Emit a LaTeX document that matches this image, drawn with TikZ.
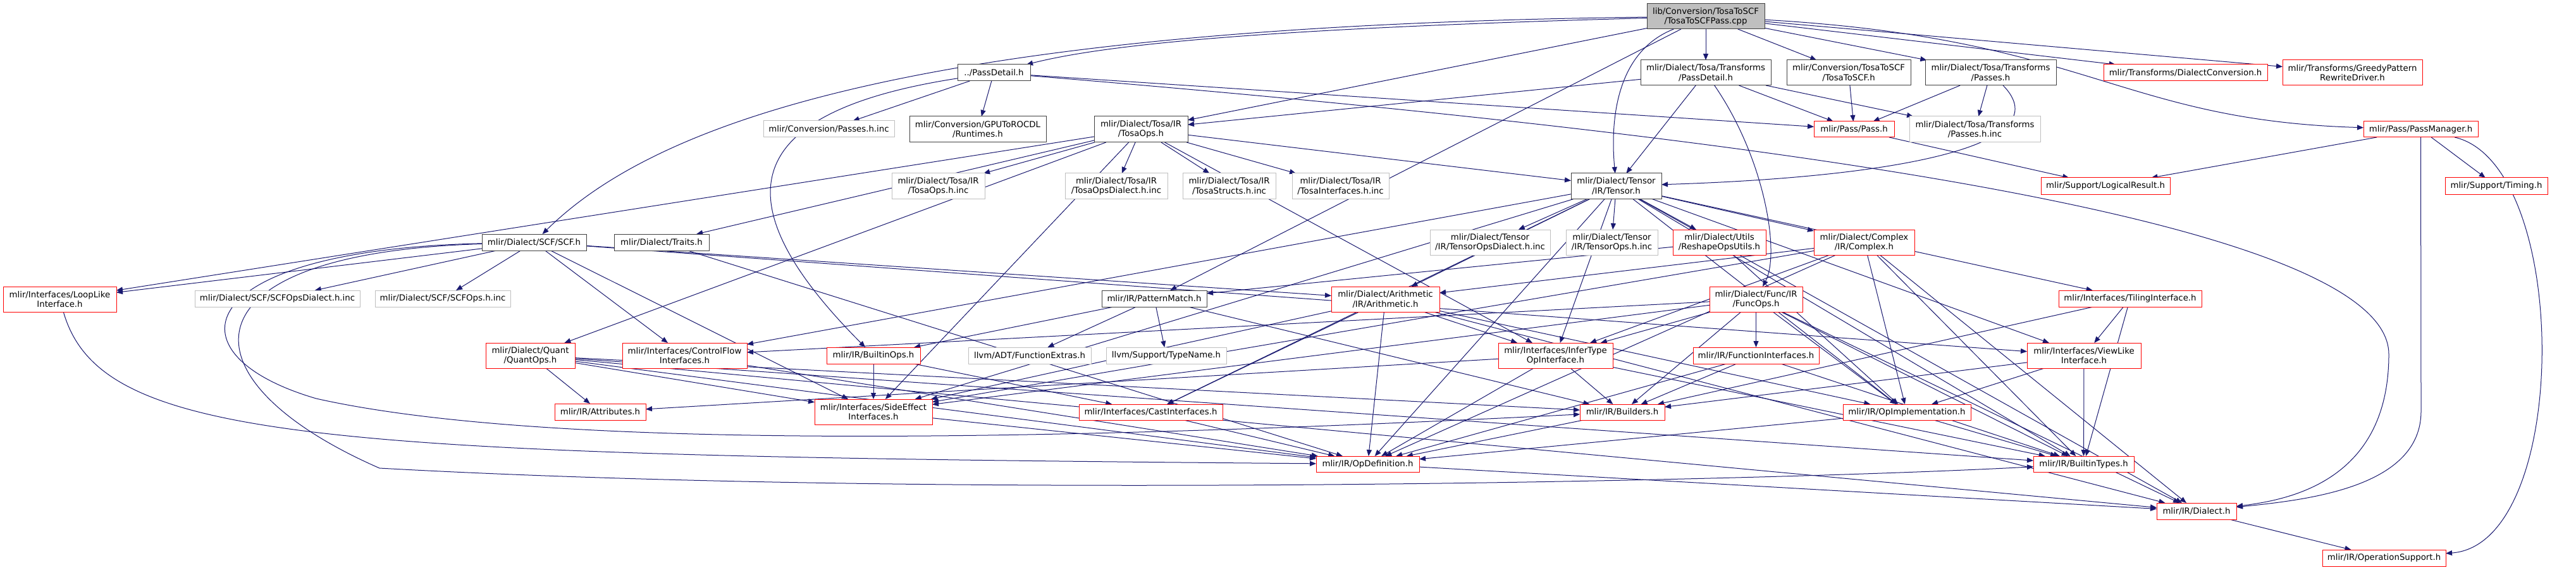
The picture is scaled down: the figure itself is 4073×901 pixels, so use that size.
\documentclass[tikz,border=0pt]{standalone}
\usepackage{fontspec}
\setmainfont{DejaVu Sans}
\usetikzlibrary{arrows.meta}
\definecolor{edgeblue}{HTML}{191970}
\definecolor{nodegray}{HTML}{BFBFBF}
\definecolor{nodeblack}{HTML}{404040}
\definecolor{nodered}{HTML}{FF0000}
\pgfdeclarelayer{bg}
\pgfsetlayers{bg,main}
\newcommand\mkbox[7]{\node[#1, minimum width={#4pt-#3pt}, minimum height={#6pt-#5pt}] (#2) at ({(#3+#4)/2},{(#5+#6)/2}) {#7};}
\tikzset{
  nb/.style={rectangle, inner sep=0pt, outer sep=0pt, align=center, fill=white, line width=1pt, text=black, font=\fontsize{13.3}{15.2}\selectfont},
  blk/.style={nb, draw=nodeblack},
  rd/.style={nb, draw=nodered},
  gr/.style={nb, draw=nodegray},
  rt/.style={nb, draw=nodeblack, fill=nodegray},
  dep/.style={draw=edgeblue, line width=1pt, -{Triangle[length=10pt,width=8pt]}}
}
\begin{document}
\begin{tikzpicture}[x=1pt,y=-1pt]
\useasboundingbox (0,0) rectangle (4073,901);
% nodes
\mkbox{rt}{root}{2604}{2790}{6}{46}{lib/Conversion/TosaToSCF\\/TosaToSCFPass.cpp}
\mkbox{blk}{pd}{1514}{1629}{102}{128}{../PassDetail.h}
\mkbox{blk}{tpd}{2594}{2800}{95}{135}{mlir/Dialect/Tosa/Transforms\\/PassDetail.h}
\mkbox{blk}{t2s}{2825}{3021}{95}{135}{mlir/Conversion/TosaToSCF\\/TosaToSCF.h}
\mkbox{blk}{tpass}{3044}{3251}{95}{135}{mlir/Dialect/Tosa/Transforms\\/Passes.h}
\mkbox{rd}{dconv}{3326}{3585}{102}{128}{mlir/Transforms/DialectConversion.h}
\mkbox{rd}{greedy}{3609}{3830}{95}{135}{mlir/Transforms/GreedyPattern\\RewriteDriver.h}
\mkbox{gr}{cpinc}{1207}{1414}{191}{217}{mlir/Conversion/Passes.h.inc}
\mkbox{blk}{rocdl}{1438}{1654}{184}{225}{mlir/Conversion/GPUToROCDL\\/Runtimes.h}
\mkbox{blk}{tosaops}{1730}{1878}{184}{225}{mlir/Dialect/Tosa/IR\\/TosaOps.h}
\mkbox{rd}{pass}{2868}{2995}{192}{217}{mlir/Pass/Pass.h}
\mkbox{gr}{tpinc}{3019}{3226}{184}{225}{mlir/Dialect/Tosa/Transforms\\/Passes.h.inc}
\mkbox{rd}{pm}{3737}{3918}{192}{217}{mlir/Pass/PassManager.h}
\mkbox{gr}{toinc}{1410}{1557}{274}{314}{mlir/Dialect/Tosa/IR\\/TosaOps.h.inc}
\mkbox{gr}{todinc}{1684}{1846}{274}{314}{mlir/Dialect/Tosa/IR\\/TosaOpsDialect.h.inc}
\mkbox{gr}{tsinc}{1870}{2017}{274}{314}{mlir/Dialect/Tosa/IR\\/TosaStructs.h.inc}
\mkbox{gr}{tiinc}{2043}{2196}{274}{314}{mlir/Dialect/Tosa/IR\\/TosaInterfaces.h.inc}
\mkbox{blk}{tensor}{2484}{2627}{274}{314}{mlir/Dialect/Tensor\\/IR/Tensor.h}
\mkbox{rd}{logres}{3227}{3431}{281}{307}{mlir/Support/LogicalResult.h}
\mkbox{rd}{timing}{3866}{4028}{281}{307}{mlir/Support/Timing.h}
\mkbox{blk}{scf}{762}{927}{370}{396}{mlir/Dialect/SCF/SCF.h}
\mkbox{blk}{traits}{971}{1121}{370}{396}{mlir/Dialect/Traits.h}
\mkbox{gr}{tdinc}{2261}{2451}{363}{403}{mlir/Dialect/Tensor\\/IR/TensorOpsDialect.h.inc}
\mkbox{gr}{tinc}{2476}{2621}{363}{403}{mlir/Dialect/Tensor\\/IR/TensorOps.h.inc}
\mkbox{rd}{reshape}{2645}{2792}{363}{403}{mlir/Dialect/Utils\\/ReshapeOpsUtils.h}
\mkbox{rd}{complex}{2868}{3027}{363}{403}{mlir/Dialect/Complex\\/IR/Complex.h}
\mkbox{rd}{looplike}{5}{184}{453}{493}{mlir/Interfaces/LoopLike\\Interface.h}
\mkbox{gr}{scfdinc}{308}{569}{459}{485}{mlir/Dialect/SCF/SCFOpsDialect.h.inc}
\mkbox{gr}{scfinc}{593}{807}{459}{485}{mlir/Dialect/SCF/SCFOps.h.inc}
\mkbox{blk}{pattern}{1742}{1908}{459}{485}{mlir/IR/PatternMatch.h}
\mkbox{rd}{arith}{2105}{2276}{453}{493}{mlir/Dialect/Arithmetic\\/IR/Arithmetic.h}
\mkbox{rd}{funcops}{2703}{2850}{453}{493}{mlir/Dialect/Func/IR\\/FuncOps.h}
\mkbox{rd}{tiling}{3255}{3481}{459}{485}{mlir/Interfaces/TilingInterface.h}
\mkbox{rd}{quant}{768}{909}{542}{582}{mlir/Dialect/Quant\\/QuantOps.h}
\mkbox{rd}{cflow}{984}{1181}{542}{582}{mlir/Interfaces/ControlFlow\\Interfaces.h}
\mkbox{rd}{bops}{1307}{1455}{549}{575}{mlir/IR/BuiltinOps.h}
\mkbox{gr}{fext}{1531}{1725}{549}{575}{llvm/ADT/FunctionExtras.h}
\mkbox{gr}{tname}{1749}{1939}{549}{575}{llvm/Support/TypeName.h}
\mkbox{rd}{infer}{2369}{2550}{542}{582}{mlir/Interfaces/InferType\\OpInterface.h}
\mkbox{rd}{finterf}{2677}{2876}{549}{575}{mlir/IR/FunctionInterfaces.h}
\mkbox{rd}{viewlike}{3205}{3385}{542}{582}{mlir/Interfaces/ViewLike\\Interface.h}
\mkbox{rd}{attrs}{877}{1021}{638}{664}{mlir/IR/Attributes.h}
\mkbox{rd}{sideeff}{1288}{1474}{631}{671}{mlir/Interfaces/SideEffect\\Interfaces.h}
\mkbox{rd}{cast}{1706}{1933}{639}{664}{mlir/Interfaces/CastInterfaces.h}
\mkbox{rd}{builders}{2498}{2632}{639}{664}{mlir/IR/Builders.h}
\mkbox{rd}{opimpl}{2914}{3116}{639}{664}{mlir/IR/OpImplementation.h}
\mkbox{rd}{opdef}{2081}{2244}{721}{746}{mlir/IR/OpDefinition.h}
\mkbox{rd}{btypes}{3215}{3374}{721}{746}{mlir/IR/BuiltinTypes.h}
\mkbox{rd}{dialect}{3410}{3536}{795}{821}{mlir/IR/Dialect.h}
\mkbox{rd}{opsupp}{3672}{3867}{869}{895}{mlir/IR/OperationSupport.h}
% edges
\begin{pgfonlayer}{bg}
\fill[white] (0,0) rectangle (4073,901);
\foreach \a/\b in {root/tpd, root/t2s, root/tpass, root/dconv, root/greedy, root/tosaops, root/pattern,
  pd/cpinc, pd/rocdl, pd/pass,
  tpd/tosaops, tpd/tensor, tpd/pass, tpd/tpinc,
  t2s/pass, tpass/tpinc, tpass/pass, pass/logres, pm/logres, pm/timing,
  tosaops/toinc, tosaops/todinc, tosaops/tsinc, tosaops/tiinc, tosaops/tensor, tosaops/traits,
  tosaops/looplike, tosaops/quant, tosaops/sideeff, tosaops/infer,
  tensor/tdinc, tensor/tinc, tensor/reshape, tensor/complex, tensor/arith, tensor/btypes, tensor/dialect,
  tensor/opdef, tensor/opimpl, tensor/cast, tensor/cflow, tensor/infer, tensor/sideeff, tensor/tiling, tensor/viewlike,
  scf/looplike, scf/scfdinc, scf/scfinc, scf/arith, scf/cflow, scf/sideeff, scf/viewlike,
  traits/opdef, reshape/opimpl, reshape/pattern,
  complex/arith, complex/btypes, complex/dialect, complex/opdef, complex/opimpl, complex/infer, complex/sideeff,
  pattern/bops, pattern/fext, pattern/tname, pattern/builders,
  arith/cast, arith/infer, arith/sideeff, arith/opdef, arith/opimpl, arith/dialect,
  funcops/cflow, funcops/infer, funcops/sideeff, funcops/builders, funcops/finterf, funcops/opimpl, funcops/btypes, funcops/dialect,
  finterf/builders, finterf/opdef, finterf/btypes,
  infer/attrs, infer/opdef, infer/btypes, infer/builders,
  tiling/builders, tiling/viewlike, tiling/btypes,
  viewlike/builders, viewlike/opimpl, viewlike/btypes,
  quant/attrs, quant/builders, quant/btypes, quant/dialect, quant/opdef, quant/sideeff,
  cflow/opdef, bops/sideeff, bops/cast, sideeff/opdef, cast/opdef, builders/opdef,
  opimpl/opdef, opimpl/btypes, opdef/dialect, dialect/opsupp}
  {\draw[dep] (\a) -- (\b);}
% curved connectors
\draw[dep] (root) .. controls (2000,45) and (1750,70) .. (pd);
\draw[dep] (root) .. controls (1500,40) and (1050,180) .. (scf);
\draw[dep] (root) .. controls (3300,60) and (3350,190) .. (pm);
\draw[dep] (root) .. controls (2560,80) and (2545,180) .. (tensor);
\draw[dep] (tpd) .. controls (2790,250) and (2815,400) .. (funcops);
\draw[dep] (tpass) .. controls (3260,230) and (3000,280) .. (tensor);
\draw[dep] (pd) .. controls (1150,180) and (1150,330) .. (bops);
\draw[dep] (pd) .. controls (2600,200) and (3777,330) .. (3777,560) .. controls (3777,760) and (3620,790) .. (dialect);
\draw[dep] (pm.south) -- (3828,650) .. controls (3828,770) and (3650,790) .. (dialect);
\draw[dep] (pm) .. controls (4066,260) and (4066,860) .. (opsupp);
\draw[dep] (looplike) .. controls (160,700) and (500,720) .. (opdef);
\draw[dep] (scf) .. controls (300,395) and (260,560) .. (500,630) .. controls (900,720) and (1800,690) .. (builders);
\draw[dep] (scf) .. controls (280,400) and (280,600) .. (600,740) .. controls (1500,790) and (2800,760) .. (btypes);
\end{pgfonlayer}
\end{tikzpicture}
\end{document}
